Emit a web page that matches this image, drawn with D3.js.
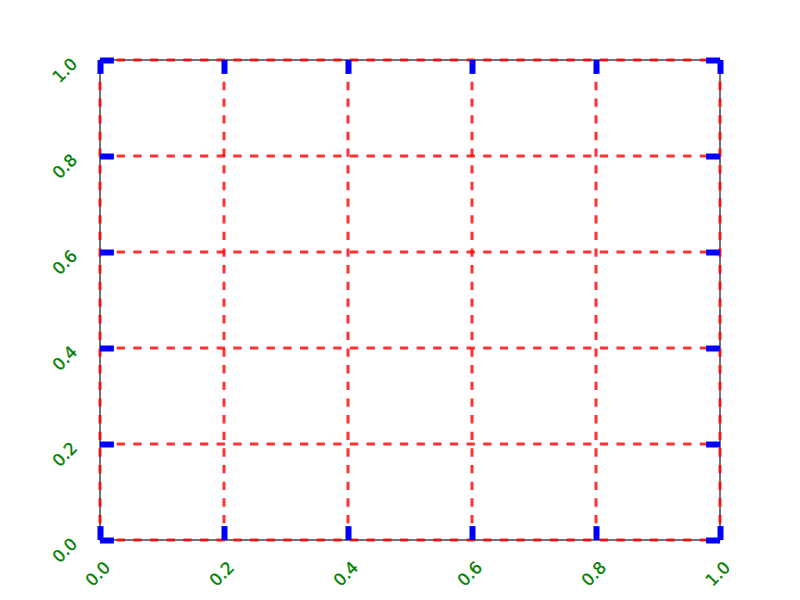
<!DOCTYPE html>
<html>
<head>
<meta charset="utf-8">
<script src="https://cdn.jsdelivr.net/npm/d3@7"></script>
<style>
  html, body { margin: 0; padding: 0; background: #ffffff; }
  svg { display: block; }
</style>
</head>
<body>
<svg id="chart" width="800" height="600"></svg>
<script>
// ---- data ----
const xDomain = [0, 1];
const yDomain = [0, 1];
const xTicks = [0.0, 0.2, 0.4, 0.6, 0.8, 1.0];
const yTicks = [0.0, 0.2, 0.4, 0.6, 0.8, 1.0];
const xTickLabels = ["0.0", "0.2", "0.4", "0.6", "0.8", "1.0"];
const yTickLabels = ["0.0", "0.2", "0.4", "0.6", "0.8", "1.0"];

(function () {
  // ---- layout ----
  const svg = d3.select("#chart");
  const mLeft = 100, mRight = 720, mTop = 60, mBottom = 540;
  const x = d3.scaleLinear().domain(xDomain).range([mLeft, mRight]);
  const y = d3.scaleLinear().domain(yDomain).range([mBottom, mTop]);

  svg.append("rect").attr("width", 800).attr("height", 600).attr("fill", "#ffffff");

  // spines
  svg.append("rect")
    .attr("x", mLeft).attr("y", mTop)
    .attr("width", mRight - mLeft).attr("height", mBottom - mTop)
    .attr("fill", "none").attr("stroke", "#000000").attr("stroke-width", 1.1);

  // grid
  const grid = svg.append("g")
    .attr("stroke", "#ff0000").attr("stroke-opacity", 0.8)
    .attr("stroke-width", 3).attr("stroke-dasharray", "8.33,8.33");
  grid.selectAll("line.v").data(xTicks).join("line").attr("class", "v")
    .attr("x1", d => x(d)).attr("x2", d => x(d))
    .attr("y1", mBottom).attr("y2", mTop);
  grid.selectAll("line.h").data(yTicks).join("line").attr("class", "h")
    .attr("x1", mLeft).attr("x2", mRight)
    .attr("y1", d => y(d)).attr("y2", d => y(d));

  // axes with inward ticks
  const tickLen = 13.9, tickW = 6, tickColor = "#0000ff";
  function styleAxis(g) {
    g.select(".domain").remove();
    g.selectAll(".tick line").attr("stroke", tickColor).attr("stroke-width", tickW);
    g.selectAll(".tick text").remove();
  }
  svg.append("g").attr("transform", `translate(0,${mBottom})`)
    .call(d3.axisBottom(x).tickValues(xTicks).tickSizeInner(-tickLen).tickSizeOuter(0))
    .call(styleAxis);
  svg.append("g").attr("transform", `translate(0,${mTop})`)
    .call(d3.axisTop(x).tickValues(xTicks).tickSizeInner(-tickLen).tickSizeOuter(0))
    .call(styleAxis);
  svg.append("g").attr("transform", `translate(${mLeft},0)`)
    .call(d3.axisLeft(y).tickValues(yTicks).tickSizeInner(-tickLen).tickSizeOuter(0))
    .call(styleAxis);
  svg.append("g").attr("transform", `translate(${mRight},0)`)
    .call(d3.axisRight(y).tickValues(yTicks).tickSizeInner(-tickLen).tickSizeOuter(0))
    .call(styleAxis);

  // tick labels (rotated 45)
  const labelFont = "DejaVu Sans";
  const labelSize = 16.67;
  const labelColor = "#008000";
  svg.append("g").selectAll("text").data(xTicks).join("text")
    .attr("transform", d => `translate(${x(d) - 2},574) rotate(-45)`)
    .attr("text-anchor", "middle").attr("dominant-baseline", "central")
    .attr("font-family", labelFont).attr("font-size", labelSize)
    .attr("fill", labelColor).attr("stroke", labelColor).attr("stroke-width", 0.35)
    .text((d, i) => xTickLabels[i]);
  svg.append("g").selectAll("text").data(yTicks).join("text")
    .attr("transform", d => `translate(65,${y(d) + 10.5}) rotate(-45)`)
    .attr("text-anchor", "middle").attr("dominant-baseline", "central")
    .attr("font-family", labelFont).attr("font-size", labelSize)
    .attr("fill", labelColor).attr("stroke", labelColor).attr("stroke-width", 0.35)
    .text((d, i) => yTickLabels[i]);
})();
</script>
</body>
</html>
